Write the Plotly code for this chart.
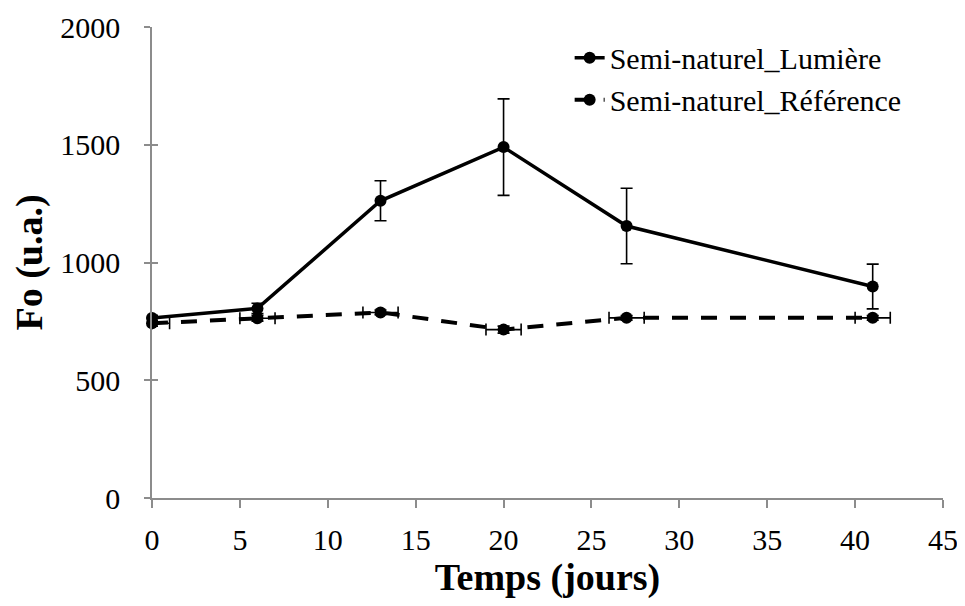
import plotly.graph_objects as go

days = [0, 6, 13, 20, 27, 41]
lumiere = [764, 805, 1262, 1490, 1155, 898]
lumiere_err = [12, 22, 85, 205, 160, 95]
reference = [742, 763, 788, 715, 765, 765]
reference_err_y = [12, 12, 10, 15, 10, 10]
reference_err_x_plus = [1, 1, 1, 1, 1, 1]
reference_err_x_minus = [0, 1, 1, 1, 1, 1]

xticks = [0, 5, 10, 15, 20, 25, 30, 35, 40, 45]
yticks = [0, 500, 1000, 1500, 2000]

FONT = "Liberation Serif"
axis_col = "#8c8c8c"

fig = go.Figure()
fig.add_trace(go.Scatter(
    x=days, y=lumiere, name="Semi-naturel_Lumière", mode="lines+markers",
    line=dict(color="black", width=3.5),
    marker=dict(color="black", size=12),
    cliponaxis=False,
    error_y=dict(type="data", array=lumiere_err, color="black", thickness=1.6, width=6),
))
fig.add_trace(go.Scatter(
    x=days, y=reference, name="Semi-naturel_Référence", mode="lines+markers",
    line=dict(color="black", width=4, dash="16px,13px"),
    marker=dict(color="black", size=12),
    cliponaxis=False,
    error_y=dict(type="data", array=reference_err_y, color="black", thickness=1.6, width=6),
    error_x=dict(type="data", array=reference_err_x_plus, arrayminus=reference_err_x_minus,
                 color="black", thickness=1.6, width=6),
))

fig.update_layout(
    width=957, height=598,
    margin=dict(l=144, r=22, t=19, b=108),
    paper_bgcolor="white", plot_bgcolor="white",
    font=dict(family=FONT, size=30, color="black"),
    showlegend=True,
    legend=dict(x=0.528, y=0.99, xanchor="left", yanchor="top",
                font=dict(family=FONT, size=30), bgcolor="rgba(0,0,0,0)",
                tracegroupgap=2),
    xaxis=dict(range=[0, 45], tickvals=xticks, showgrid=False, zeroline=False,
               automargin=False,
               showline=True, linecolor=axis_col, linewidth=1.5,
               ticks="outside", ticklen=8, tickcolor=axis_col, tickwidth=1.5,
               ticklabelstandoff=6,
               title=dict(text="<b>Temps (jours)</b>", font=dict(size=38), standoff=5)),
    yaxis=dict(range=[0, 2000], tickvals=yticks, showgrid=False, zeroline=False,
               automargin=False,
               showline=True, linecolor=axis_col, linewidth=1.5,
               ticks="outside", ticklen=6, tickcolor=axis_col, tickwidth=1.5,
               ticklabelstandoff=18,
               title=dict(text="<b>Fo (u.a.)</b>", font=dict(size=38), standoff=9)),
    yaxis2=dict(range=[0, 2000], tickvals=yticks, overlaying="y", side="left",
                automargin=False,
                showgrid=False, zeroline=False, showticklabels=False,
                ticks="inside", ticklen=6, tickcolor=axis_col, tickwidth=1.5,
                showline=False),
)
fig.add_trace(go.Scatter(x=[None], y=[None], yaxis="y2", showlegend=False, hoverinfo="skip"))

fig.write_html("out.html")
